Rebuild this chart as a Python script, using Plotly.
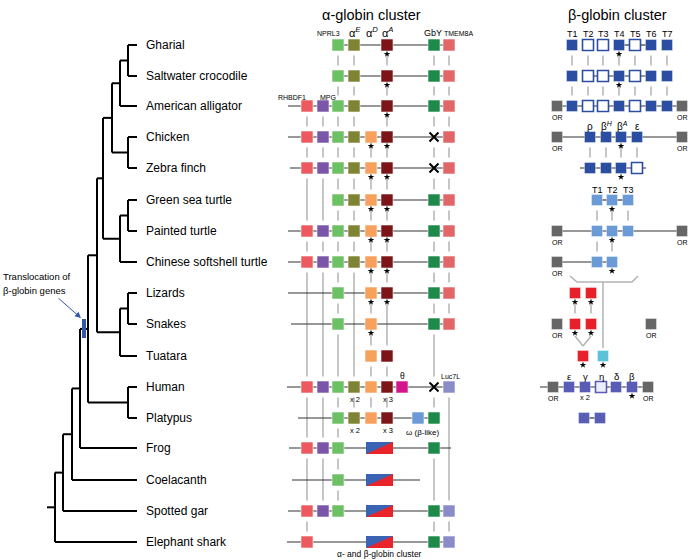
import plotly.graph_objects as go

FONT = "Liberation Sans, Arial, sans-serif"

# ---------------- data ----------------
SPECIES = ["Gharial", "Saltwater crocodile", "American alligator", "Chicken", "Zebra finch",
           "Green sea turtle", "Painted turtle", "Chinese softshell turtle", "Lizards", "Snakes",
           "Tuatara", "Human", "Platypus", "Frog", "Coelacanth", "Spotted gar", "Elephant shark"]

# phylogeny: (node, children)  children listed before parents
TREE = [
    ("GS", ["Gharial", "Saltwater crocodile"]),
    ("Croc", ["GS", "American alligator"]),
    ("Birds", ["Chicken", "Zebra finch"]),
    ("Arch", ["Croc", "Birds"]),
    ("GP", ["Green sea turtle", "Painted turtle"]),
    ("Turt", ["GP", "Chinese softshell turtle"]),
    ("Archelo", ["Arch", "Turt"]),
    ("LS", ["Lizards", "Snakes"]),
    ("Lepido", ["LS", "Tuatara"]),
    ("Saur", ["Archelo", "Lepido"]),
    ("Mamm", ["Human", "Platypus"]),
    ("Amn", ["Saur", "Mamm"]),
    ("Tetra", ["Amn", "Frog"]),
    ("Sarco", ["Tetra", "Coelacanth"]),
    ("Oste", ["Sarco", "Spotted gar"]),
    ("Root", ["Oste", "Elephant shark"]),
]

# alpha-globin cluster: species carrying each gene
RHBDF1 = ["American alligator", "Chicken", "Zebra finch", "Painted turtle", "Chinese softshell turtle",
          "Human", "Frog", "Spotted gar", "Elephant shark"]
MPG = ["American alligator", "Chicken", "Zebra finch", "Painted turtle", "Chinese softshell turtle",
       "Human", "Frog", "Spotted gar"]
NPRL3 = ["Gharial", "Saltwater crocodile", "American alligator", "Chicken", "Zebra finch",
         "Green sea turtle", "Painted turtle", "Chinese softshell turtle", "Lizards", "Snakes",
         "Human", "Platypus", "Frog", "Coelacanth", "Spotted gar"]
ALPHA_E = ["Gharial", "Saltwater crocodile", "American alligator", "Chicken", "Zebra finch",
           "Green sea turtle", "Painted turtle", "Chinese softshell turtle", "Human", "Platypus"]
ALPHA_D = ["Chicken", "Zebra finch", "Green sea turtle", "Painted turtle", "Chinese softshell turtle",
           "Lizards", "Snakes", "Tuatara", "Human", "Platypus"]
ALPHA_A = ["Gharial", "Saltwater crocodile", "American alligator", "Chicken", "Zebra finch",
           "Green sea turtle", "Painted turtle", "Chinese softshell turtle", "Lizards", "Tuatara",
           "Human", "Platypus"]
THETA = ["Human"]
OMEGA = ["Platypus"]
GBY = ["Gharial", "Saltwater crocodile", "American alligator", "Chicken", "Zebra finch",
       "Green sea turtle", "Painted turtle", "Chinese softshell turtle", "Lizards", "Snakes",
       "Human", "Platypus", "Frog", "Spotted gar", "Elephant shark"]
GBY_LOST = ["Chicken", "Zebra finch", "Human"]
TMEM8A = ["Gharial", "Saltwater crocodile", "American alligator", "Chicken", "Zebra finch",
          "Green sea turtle", "Painted turtle", "Chinese softshell turtle", "Lizards", "Snakes"]
LUC7L = ["Human", "Spotted gar", "Elephant shark"]
AB_CLUSTER = ["Frog", "Coelacanth", "Spotted gar", "Elephant shark"]
STAR_ALPHA_D = ["Chicken", "Zebra finch", "Green sea turtle", "Painted turtle",
                "Chinese softshell turtle", "Lizards", "Snakes"]
STAR_ALPHA_A = ["Gharial", "Saltwater crocodile", "American alligator", "Chicken", "Zebra finch",
                "Green sea turtle", "Painted turtle", "Chinese softshell turtle", "Lizards"]
COPIES = [("Human", "aE", "x 2"), ("Human", "aA", "x 3"),
          ("Platypus", "aE", "x 2"), ("Platypus", "aA", "x 3")]

# beta-globin cluster: per species list of (slot, kind, starred)
BETA = {
    "Gharial": [("T1", "b", 0), ("T2", "o", 0), ("T3", "o", 0), ("T4", "b", 1), ("T5", "o", 0), ("T6", "b", 0), ("T7", "b", 0)],
    "Saltwater crocodile": [("T1", "b", 0), ("T2", "o", 0), ("T3", "o", 0), ("T4", "b", 1), ("T5", "o", 0), ("T6", "b", 0), ("T7", "b", 0)],
    "American alligator": [("ORL", "or", 0), ("T1", "b", 0), ("T2", "o", 0), ("T3", "o", 0), ("T4", "b", 0), ("T5", "o", 0), ("T6", "b", 0), ("T7", "b", 0), ("ORR", "or", 0)],
    "Chicken": [("ORL", "or", 0), ("rho", "b", 0), ("bH", "b", 0), ("bA", "b", 1), ("eps", "b", 0), ("ORR", "or", 0)],
    "Zebra finch": [("rho", "b", 0), ("bH", "b", 0), ("bA", "b", 1), ("eps", "o", 0)],
    "Green sea turtle": [("tT1", "lb", 0), ("tT2", "lb", 1), ("tT3", "lb", 0)],
    "Painted turtle": [("ORL", "or", 0), ("tT1", "lb", 0), ("tT2", "lb", 1), ("tT3", "lb", 0), ("ORR", "or", 0)],
    "Chinese softshell turtle": [("ORL", "or", 0), ("tT1", "lb", 0), ("tT2", "lb", 1)],
    "Lizards": [("s1", "r", 1), ("s2", "r", 1)],
    "Snakes": [("ORL", "or", 0), ("s1", "r", 1), ("s2", "r", 1), ("ORS", "or", 0)],
    "Tuatara": [("tr", "r", 1), ("tc", "c", 1)],
    "Human": [("hORL", "or", 0), ("he", "p", 0), ("hg", "p", 0), ("heta", "po", 0), ("hd", "p", 0), ("hb", "p", 1), ("hORR", "or", 0)],
    "Platypus": [("p1", "p", 0), ("p2", "p", 0)],
}

# ---------------- layout constants ----------------
ROW_Y = [45, 76, 106, 137, 168, 200, 231, 262, 293, 324, 356, 387, 418, 448, 480, 511, 542]
Y = dict(zip(SPECIES, ROW_Y))
NODE_X = {"GS": 128, "Croc": 120, "Birds": 128, "Arch": 112, "GP": 128, "Turt": 120, "Archelo": 103,
          "LS": 128, "Lepido": 120, "Saur": 97, "Mamm": 128, "Amn": 88, "Tetra": 80, "Sarco": 72,
          "Oste": 63, "Root": 55}
TIP_X = 137
ROOT_STUB = 47

AX = {"RHBDF1": 307, "MPG": 323, "NPRL3": 338, "aE": 354, "aD": 371, "aA": 387, "theta": 402,
      "omega": 418, "GbY": 434, "TMEM8A": 449, "LUC7L": 449}
AB_X = (366, 393)
ALPHA_SPAN = {"Gharial": (338, 449), "Saltwater crocodile": (338, 449), "American alligator": (288, 449),
              "Chicken": (288, 449), "Zebra finch": (290, 449), "Green sea turtle": (338, 449),
              "Painted turtle": (288, 449), "Chinese softshell turtle": (288, 449), "Lizards": (288, 449),
              "Snakes": (291, 449), "Human": (287, 449), "Platypus": (298, 434), "Frog": (289, 451),
              "Coelacanth": (292, 420), "Spotted gar": (288, 449), "Elephant shark": (287, 449)}
COL = {"RHBDF1": "#ec5a60", "MPG": "#7a55a8", "NPRL3": "#6cc164", "aE": "#7e8433", "aD": "#f7a15c",
       "aA": "#7c1518", "theta": "#d4168c", "omega": "#6b9bd6", "GbY": "#1e8a4a", "TMEM8A": "#e06668",
       "LUC7L": "#8a8bc9"}

BX = {"ORL": 557, "ORR": 682, "T1": 572, "T2": 588, "T3": 603, "T4": 619, "T5": 635, "T6": 651, "T7": 667,
      "rho": 590, "bH": 606, "bA": 621, "eps": 637, "tT1": 597, "tT2": 612, "tT3": 628,
      "s1": 575, "s2": 591, "ORS": 651, "tr": 583, "tc": 603,
      "hORL": 553, "he": 569, "hg": 585, "heta": 601, "hd": 616, "hb": 632, "hORR": 648, "p1": 584, "p2": 600}
BETA_SPAN = {"Gharial": [("T4", "T6")], "Saltwater crocodile": [("T2", "T6")],
             "American alligator": [("ORL", "ORR")], "Chicken": [("ORL", "ORR")], "Zebra finch": [(580, 646)],
             "Green sea turtle": [("tT1", "tT3")], "Painted turtle": [("ORL", "ORR")],
             "Chinese softshell turtle": [("ORL", "tT2")], "Human": [(540, "hORR")], "Platypus": [("p1", "p2")]}
BKIND = {"b": ("#2c4ea2", "#2c4ea2"), "o": ("white", "#2c4ea2"), "or": ("#666666", "#666666"),
         "lb": ("#6a9bd6", "#6a9bd6"), "r": ("#e8202a", "#e8202a"), "c": ("#5cc2d8", "#5cc2d8"),
         "p": ("#5a5db5", "#5a5db5"), "po": ("#eceef9", "#5a5db5")}

GRAY = "#b3b3b3"
shapes, annots = [], []
star_x, star_y, x_x, x_y = [], [], [], []


def seg(x0, y0, x1, y1, color="black", width=1.2):
    shapes.append(dict(type="line", xref="x", yref="y", x0=x0, y0=y0, x1=x1, y1=y1, layer="below",
                       line=dict(color=color, width=width)))


def box(x, y, fill, border="rgba(255,255,255,0.7)", h=6, bw=0.8):
    shapes.append(dict(type="rect", xref="x", yref="y", x0=x - h, x1=x + h, y0=y - h, y1=y + h,
                       layer="below", fillcolor=fill, line=dict(color=border, width=bw)))


def txt(x, y, s, size, anchor="center", color="black", bg=None):
    d = dict(x=x, y=y, xref="x", yref="y", text=s, showarrow=False, xanchor=anchor,
             yanchor="middle", font=dict(size=size, family=FONT, color=color))
    if bg:
        d["bgcolor"] = bg
        d["borderpad"] = 0
    annots.append(d)


# ---------------- tree ----------------
ny = dict(Y)
nx = {s: TIP_X for s in SPECIES}
for node, kids in TREE:
    ny[node] = sum(ny[k] for k in kids) / len(kids)
    nx[node] = NODE_X[node]
for node, kids in TREE:
    ys = [ny[k] for k in kids]
    seg(nx[node], min(ys), nx[node], max(ys), width=2)
    for k in kids:
        seg(nx[node], ny[k], nx[k], ny[k], width=2)
seg(ROOT_STUB, ny["Root"], nx["Root"], ny["Root"], width=2)
for s in SPECIES:
    txt(144, Y[s], s, 12, anchor="left")

shapes.append(dict(type="rect", xref="x", yref="y", x0=82, x1=86, y0=319, y1=338,
                   fillcolor="#3356ad", line=dict(width=0)))
txt(1, 276, "Translocation of", 9.5, anchor="left")
txt(1, 290, "β-globin genes", 9.5, anchor="left")
annots.append(dict(x=81, y=318, ax=57, ay=297, xref="x", yref="y", axref="x", ayref="y", text="",
                   showarrow=True, arrowhead=2, arrowsize=1.2, arrowwidth=1, arrowcolor="#3356ad"))

# ---------------- alpha cluster ----------------
alpha_sets = [("RHBDF1", RHBDF1), ("MPG", MPG), ("NPRL3", NPRL3), ("aE", ALPHA_E), ("aD", ALPHA_D),
              ("aA", ALPHA_A), ("theta", THETA), ("omega", OMEGA), ("GbY", GBY), ("TMEM8A", TMEM8A),
              ("LUC7L", LUC7L)]
for key, lst in alpha_sets:
    for a, b in zip(lst[:-1], lst[1:]):
        seg(AX[key], Y[a] + 10.5, AX[key], Y[b] - 10.5, color=GRAY, width=1.5)
for s, (x0, x1) in ALPHA_SPAN.items():
    seg(x0, Y[s], x1, Y[s], color="#333333", width=1.2)
for key, lst in alpha_sets:
    for s in lst:
        if key == "GbY" and s in GBY_LOST:
            x_x.append(AX[key]); x_y.append(Y[s])
        else:
            box(AX[key], Y[s], COL[key])
for s in AB_CLUSTER:
    y0, y1 = Y[s] - 6, Y[s] + 6
    shapes.append(dict(type="rect", xref="x", yref="y", x0=AB_X[0], x1=AB_X[1], y0=y0, y1=y1,
                       layer="below", fillcolor="#3a63b4", line=dict(width=0)))
    shapes.append(dict(type="path", xref="x", yref="y", layer="below", fillcolor="#e8242a",
                       line=dict(width=0),
                       path=f"M {AB_X[0]} {y1} L {AB_X[1]} {y0} L {AB_X[1]} {y1} Z"))
for s in STAR_ALPHA_D:
    star_x.append(AX["aD"]); star_y.append(Y[s] + 9)
for s in STAR_ALPHA_A:
    star_x.append(AX["aA"]); star_y.append(Y[s] + 9)
for s, key, lab in COPIES:
    txt(AX[key] + 1, Y[s] + 12, lab, 7.5)

txt(371, 15, "α-globin cluster", 14.5)
txt(328, 33, "NPRL3", 7)
txt(355, 32, "α<sup><i>E</i></sup>", 11)
txt(372, 32, "α<sup><i>D</i></sup>", 11)
txt(388, 32, "α<sup><i>A</i></sup>", 11)
txt(433, 33, "GbY", 9)
txt(459, 33, "TMEM8A", 7)
txt(292, 97, "RHBDF1", 7)
txt(328, 97, "MPG", 7)
txt(402, 376, "θ", 8.5)
txt(450, 376, "Luc7L", 7)
txt(422, 432, "ω (β-like)", 8, bg="white")
txt(379, 554, "α- and β-globin cluster", 8.5)

# ---------------- beta cluster ----------------
for s, spans in BETA_SPAN.items():
    for a, b in spans:
        xa = BX[a] if isinstance(a, str) else a
        xb = BX[b] if isinstance(b, str) else b
        seg(xa, Y[s], xb, Y[s], color="#333333", width=1.2)
order = [s for s in SPECIES if s in BETA]
for a, b in zip(order[:-1], order[1:]):
    ka = {g[0] for g in BETA[a]}
    for g in BETA[b]:
        if g[0] in ka and not g[0].startswith(("OR", "hOR")):
            seg(BX[g[0]], Y[a] + 10.5, BX[g[0]], Y[b] - 10.5, color=GRAY, width=1.5)
for s in order:
    for slot, kind, st in BETA[s]:
        fill, border = BKIND[kind]
        bw = 1.6 if kind in ("o", "po") else 0.6
        box(BX[slot], Y[s], fill, border=border if kind in ("o", "po") else "rgba(255,255,255,0.6)",
            h=5.5, bw=bw)
        if st:
            star_x.append(BX[slot]); star_y.append(Y[s] + 9)
        if kind == "or":
            txt(BX[slot], Y[s] + 11, "OR", 7)
# bracket from turtles and convergence lines to tuatara
shapes.append(dict(type="path", xref="x", yref="y", layer="below", line=dict(color=GRAY, width=1.5),
                   path="M 570 276 L 577 282 L 632 282 L 638 276"))
seg(BX["tc"], 282, BX["tc"], Y["Tuatara"] - 8, color=GRAY, width=1.5)
seg(BX["s1"], Y["Snakes"] + 12, BX["tr"], Y["Tuatara"] - 10, color=GRAY, width=1.5)
seg(BX["s2"], Y["Snakes"] + 12, BX["tr"], Y["Tuatara"] - 10, color=GRAY, width=1.5)

txt(617, 15, "β-globin cluster", 14.5)
for i in range(1, 8):
    txt(BX[f"T{i}"], 34, f"T{i}", 9)
txt(BX["rho"], 126, "ρ", 10)
txt(BX["bH"] + 1, 126, "β<sup><i>H</i></sup>", 10)
txt(BX["bA"] + 1, 126, "β<sup><i>A</i></sup>", 10)
txt(BX["eps"], 126, "ε", 10)
for i in range(1, 4):
    txt(BX[f"tT{i}"], 190, f"T{i}", 9)
for k, lab in [("he", "ε"), ("hg", "γ"), ("heta", "η"), ("hd", "δ"), ("hb", "β")]:
    txt(BX[k], 376, lab, 9.5)
txt(BX["hg"], 397, "x 2", 7.5)

fig = go.Figure()
fig.add_trace(go.Scatter(x=star_x, y=star_y, mode="markers", hoverinfo="skip",
                         marker=dict(symbol="star", size=5, color="black", line=dict(width=0))))
fig.add_trace(go.Scatter(x=x_x, y=x_y, mode="markers", hoverinfo="skip",
                         marker=dict(symbol="x-thin", size=9, line=dict(width=2, color="black"))))
fig.update_layout(width=688, height=560, margin=dict(l=0, r=0, t=0, b=0), showlegend=False,
                  plot_bgcolor="white", paper_bgcolor="white", shapes=shapes, annotations=annots,
                  xaxis=dict(range=[0, 688], visible=False, fixedrange=True),
                  yaxis=dict(range=[560, 0], visible=False, fixedrange=True))
fig.write_html("out.html", config={"displayModeBar": False},
               post_script="document.body.style.margin='0';document.body.style.overflow='hidden';")
